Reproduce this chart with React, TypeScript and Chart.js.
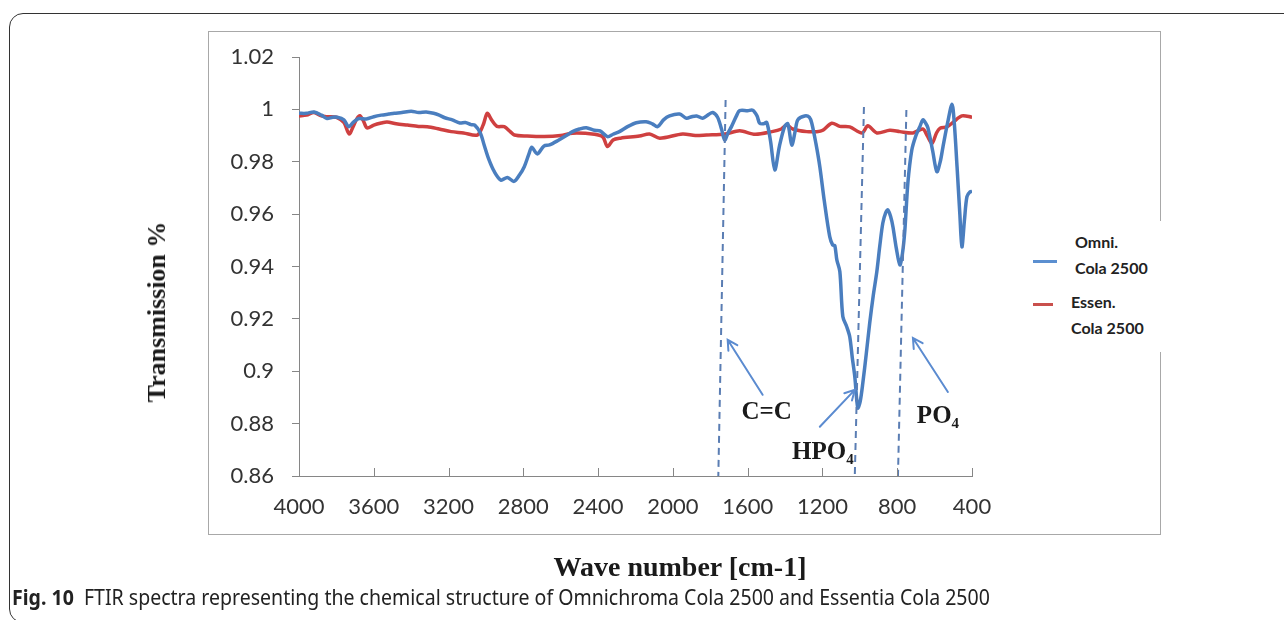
import React, { useEffect, useRef } from 'react';
import { Chart, registerables } from 'chart.js';
Chart.register(...registerables);

// ---------- data ----------
const omniWn = [4000, 3960, 3920, 3880, 3850, 3820, 3796, 3760, 3735, 3710, 3680, 3640, 3600, 3560, 3520, 3490, 3450, 3400, 3360, 3320, 3280, 3250, 3220, 3180, 3140, 3110, 3080, 3060, 3030, 3010, 2985, 2955, 2920, 2885, 2850, 2820, 2795, 2770, 2755, 2725, 2690, 2660, 2610, 2570, 2537, 2500, 2463, 2420, 2390, 2350, 2320, 2286, 2240, 2196, 2143, 2110, 2082, 2050, 2018, 1964, 1927, 1900, 1873, 1841, 1810, 1787, 1761, 1740, 1723, 1705, 1686, 1660, 1643, 1600, 1573, 1550, 1536, 1515, 1498, 1478, 1455, 1430, 1402, 1385, 1364, 1345, 1332, 1295, 1270, 1257, 1235, 1214, 1190, 1161, 1145, 1134, 1123, 1107, 1091, 1070, 1054, 1040, 1027, 1011, 998, 984, 965, 947, 928, 909, 893, 877, 862, 850, 835, 823, 805, 786, 772, 759, 743, 722, 700, 679, 663, 650, 636, 610, 588, 570, 555, 530, 507, 495, 480, 465, 454, 440, 427, 410, 400];
const omniT = [0.9985, 0.9985, 0.999, 0.9978, 0.9965, 0.997, 0.997, 0.996, 0.9934, 0.995, 0.9965, 0.9963, 0.9972, 0.9978, 0.9982, 0.9985, 0.9988, 0.9993, 0.9988, 0.999, 0.9985, 0.9978, 0.9968, 0.996, 0.9948, 0.995, 0.9942, 0.994, 0.991, 0.9865, 0.981, 0.9762, 0.973, 0.974, 0.9725, 0.975, 0.9781, 0.983, 0.9855, 0.983, 0.986, 0.9864, 0.9883, 0.99, 0.9915, 0.9925, 0.993, 0.992, 0.9918, 0.9896, 0.9905, 0.9915, 0.9935, 0.9949, 0.9953, 0.9945, 0.9934, 0.996, 0.9975, 0.9982, 0.9966, 0.9972, 0.9975, 0.9966, 0.998, 0.9988, 0.997, 0.9925, 0.9883, 0.991, 0.9935, 0.9975, 0.9995, 0.9995, 0.9997, 0.9975, 0.9947, 0.9945, 0.995, 0.988, 0.9769, 0.986, 0.9935, 0.9945, 0.9864, 0.992, 0.996, 0.9975, 0.997, 0.9947, 0.987, 0.9781, 0.965, 0.9514, 0.9482, 0.948, 0.9425, 0.9381, 0.9209, 0.917, 0.9132, 0.905, 0.898, 0.886, 0.8885, 0.8955, 0.907, 0.9185, 0.929, 0.9381, 0.948, 0.9566, 0.9605, 0.9616, 0.959, 0.9552, 0.947, 0.9406, 0.945, 0.954, 0.9719, 0.9845, 0.99, 0.9934, 0.996, 0.995, 0.993, 0.984, 0.9762, 0.98, 0.9858, 0.995, 1.002, 0.995, 0.9781, 0.96, 0.9475, 0.958, 0.9667, 0.9685, 0.9686];

const essenWn = [4000, 3960, 3920, 3880, 3850, 3800, 3760, 3732, 3710, 3690, 3675, 3655, 3636, 3600, 3560, 3529, 3480, 3420, 3360, 3314, 3250, 3186, 3120, 3046, 3015, 2993, 2970, 2940, 2902, 2870, 2848, 2780, 2688, 2600, 2537, 2420, 2375, 2350, 2320, 2280, 2179, 2125, 2070, 1948, 1880, 1820, 1720, 1643, 1560, 1470, 1420, 1391, 1359, 1284, 1230, 1198, 1150, 1107, 1054, 989, 957, 909, 840, 786, 716, 663, 640, 614, 590, 571, 534, 502, 454, 400];
const essenT = [0.9975, 0.9978, 0.9988, 0.9975, 0.9972, 0.997, 0.995, 0.9906, 0.9935, 0.9965, 0.9976, 0.9955, 0.9929, 0.994, 0.9948, 0.9952, 0.9945, 0.994, 0.9935, 0.9934, 0.9925, 0.9915, 0.991, 0.9902, 0.994, 0.9985, 0.996, 0.9935, 0.9934, 0.9915, 0.9902, 0.9898, 0.9896, 0.99, 0.9909, 0.9905, 0.9895, 0.9858, 0.9883, 0.989, 0.9898, 0.9906, 0.989, 0.9906, 0.99, 0.9902, 0.9906, 0.9918, 0.9905, 0.9915, 0.9925, 0.994, 0.9925, 0.9915, 0.9915, 0.992, 0.9947, 0.9935, 0.9933, 0.991, 0.9937, 0.991, 0.992, 0.9915, 0.991, 0.9925, 0.99, 0.987, 0.991, 0.9928, 0.9933, 0.995, 0.9975, 0.997];

// dashed marker lines (wave number at top / bottom, transmission at top / bottom)
const ccLineWn = [1718, 1757];
const ccLineT = [1.0036, 0.86];
const hpoLineWn = [978, 1027];
const hpoLineT = [1.0009, 0.86];
const poLineWn = [751, 796];
const poLineT = [0.9998, 0.86];

// annotation arrows: [tailWn, tailT, headWn, headT]
const ccArrow = [1520, 0.891, 1707, 0.912];
const hpoArrow = [1214, 0.8788, 1027, 0.8929];
const poArrow = [529, 0.8921, 716, 0.9127];

// annotation labels
const labelTexts = ['C=C', 'HPO', 'PO'];
const labelSubs = ['', '4', '4'];
const labelWn = [1498, 1198, 582];
const labelT = [0.8841, 0.8689, 0.8826];

const xMin = 400, xMax = 4000, xStep = 400;
const yMin = 0.86, yMax = 1.02, yStep = 0.02;

const seriesNames = ['Omni.', 'Essen.'];
const seriesSub = 'Cola 2500';

const BLUE = '#4a7ebf';
const RED = '#cf4040';
const DASH = '#5a7db3';
const ARROW = '#5b8bd0';

const toPts = (xs: number[], ys: number[]) => xs.map((x, i) => ({ x, y: ys[i] }));

const annotationPlugin = {
  id: 'ftirAnnotations',
  afterDatasetsDraw(chart: any) {
    const { ctx, scales } = chart;
    const xs = scales.x, ys = scales.y;
    ctx.save();
    // inside tick marks on x axis
    ctx.strokeStyle = '#868686';
    ctx.lineWidth = 1;
    xs.ticks.forEach((t: any) => {
      const px = Math.round(xs.getPixelForValue(t.value)) + 0.5;
      ctx.beginPath();
      ctx.moveTo(px, chart.chartArea.bottom);
      ctx.lineTo(px, chart.chartArea.bottom - 8);
      ctx.stroke();
    });
    // arrows
    ctx.strokeStyle = ARROW;
    ctx.lineWidth = 2;
    ctx.lineCap = 'round';
    [ccArrow, hpoArrow, poArrow].forEach((a) => {
      const x1 = xs.getPixelForValue(a[0]), y1 = ys.getPixelForValue(a[1]);
      const x2 = xs.getPixelForValue(a[2]), y2 = ys.getPixelForValue(a[3]);
      ctx.beginPath();
      ctx.moveTo(x1, y1);
      ctx.lineTo(x2, y2);
      const ang = Math.atan2(y2 - y1, x2 - x1);
      const L = 11, sp = 0.5;
      ctx.moveTo(x2 - L * Math.cos(ang - sp), y2 - L * Math.sin(ang - sp));
      ctx.lineTo(x2, y2);
      ctx.lineTo(x2 - L * Math.cos(ang + sp), y2 - L * Math.sin(ang + sp));
      ctx.stroke();
    });
    // labels
    ctx.fillStyle = '#1a1a1a';
    ctx.textBaseline = 'middle';
    ctx.textAlign = 'left';
    labelTexts.forEach((txt, i) => {
      const cx = xs.getPixelForValue(labelWn[i]);
      const cy = ys.getPixelForValue(labelT[i]);
      ctx.font = 'bold 25px "Liberation Serif", "Times New Roman", serif';
      const w1 = ctx.measureText(txt).width;
      ctx.font = 'bold 15px "Liberation Serif", "Times New Roman", serif';
      const w2 = labelSubs[i] ? ctx.measureText(labelSubs[i]).width : 0;
      const left = cx - (w1 + w2) / 2;
      ctx.font = 'bold 25px "Liberation Serif", "Times New Roman", serif';
      ctx.fillText(txt, left, cy);
      if (labelSubs[i]) {
        ctx.font = 'bold 15px "Liberation Serif", "Times New Roman", serif';
        ctx.fillText(labelSubs[i], left + w1, cy + 7);
      }
    });
    ctx.restore();
  },
};

export default function App() {
  const ref = useRef<HTMLCanvasElement | null>(null);

  useEffect(() => {
    if (!ref.current) return;
    const dashed = (xs: number[], ys: number[]) => ({
      data: toPts(xs, ys),
      borderColor: DASH,
      borderWidth: 2,
      borderDash: [7, 5],
      pointRadius: 0,
      fill: false,
      tension: 0,
    });
    const chart = new Chart(ref.current, {
      type: 'line',
      data: {
        datasets: [
          dashed(ccLineWn, ccLineT),
          dashed(hpoLineWn, hpoLineT),
          dashed(poLineWn, poLineT),
          {
            label: seriesNames[0] + ' ' + seriesSub,
            data: toPts(omniWn, omniT),
            borderColor: BLUE,
            borderWidth: 3.5,
            pointRadius: 0,
            tension: 0.3,
            fill: false,
          },
          {
            label: seriesNames[1] + ' ' + seriesSub,
            data: toPts(essenWn, essenT),
            borderColor: RED,
            borderWidth: 3.5,
            pointRadius: 0,
            tension: 0.3,
            fill: false,
          },
        ] as any,
      },
      options: {
        animation: false,
        responsive: false,
        maintainAspectRatio: false,
        layout: { padding: { left: 0, right: 312, top: 57, bottom: 0 } },
        plugins: { legend: { display: false }, tooltip: { enabled: false } },
        scales: {
          x: {
            type: 'linear',
            reverse: true,
            min: xMin,
            max: xMax,
            afterFit: (s: any) => { s.height = 620 - 476; },
            ticks: {
              stepSize: xStep,
              padding: 18,
              autoSkip: false,
              maxRotation: 0,
              font: { family: 'Lato', size: 22 },
              color: '#333',
              callback: (v: any) => String(v),
            },
            grid: { display: false, drawTicks: false },
            border: { display: true, color: '#868686', width: 1 },
          },
          y: {
            min: yMin,
            max: yMax,
            afterFit: (s: any) => { s.width = 299; },
            ticks: {
              stepSize: yStep,
              padding: 18,
              font: { family: 'Lato', size: 22 },
              color: '#333',
              callback: (v: any) => String(Number(Number(v).toFixed(2))),
            },
            grid: { display: true, drawOnChartArea: false, drawTicks: true, tickLength: 7, color: '#868686' },
            border: { display: true, color: '#868686', width: 1 },
          },
        },
      } as any,
      plugins: [annotationPlugin],
    });
    return () => chart.destroy();
  }, []);

  const serif = '"Liberation Serif", "Times New Roman", serif';
  const legendFont = 'bold 16px Lato, sans-serif';

  return (
    <div style={{ position: 'fixed', left: 0, top: 0, width: 1284, height: 620, overflow: 'hidden', background: '#fff' }}>
      <div style={{ position: 'absolute', left: 9, top: 13, width: 1300, height: 608, border: '1px solid #333', borderRadius: 14 }} />
      <div style={{ position: 'absolute', left: 208, top: 31, width: 951, height: 502, border: '1px solid #a8a8a8' }} />
      <canvas ref={ref} width={1284} height={620} style={{ position: 'absolute', left: 0, top: 0, width: 1284, height: 620 }} />
      <div style={{ position: 'absolute', left: 1022, top: 221, width: 150, height: 131, background: '#fff' }}>
        <div style={{ position: 'absolute', left: 11, top: 39, width: 24, height: 3, background: '#5b8fd0' }} />
        <div style={{ position: 'absolute', left: 53, top: 11, font: legendFont, color: '#222', lineHeight: '20px' }}>{seriesNames[0]}</div>
        <div style={{ position: 'absolute', left: 53, top: 37, font: legendFont, color: '#222', lineHeight: '20px', whiteSpace: 'nowrap' }}>{seriesSub}</div>
        <div style={{ position: 'absolute', left: 11, top: 82, width: 20, height: 3, background: '#c9504d' }} />
        <div style={{ position: 'absolute', left: 49, top: 71, font: legendFont, color: '#222', lineHeight: '20px' }}>{seriesNames[1]}</div>
        <div style={{ position: 'absolute', left: 49, top: 97, font: legendFont, color: '#222', lineHeight: '20px', whiteSpace: 'nowrap' }}>{seriesSub}</div>
      </div>
      <div style={{ position: 'absolute', left: 157, top: 312, transform: 'translate(-50%, -50%) rotate(-90deg)', whiteSpace: 'nowrap', fontFamily: serif, fontWeight: 'bold', fontSize: 26, color: '#1a1a1a' }}>Transmission %</div>
      <div style={{ position: 'absolute', left: 680, top: 567, transform: 'translate(-50%, -50%)', whiteSpace: 'nowrap', fontFamily: serif, fontWeight: 'bold', fontSize: 28, color: '#1a1a1a' }}>Wave number [cm-1]</div>
      <div style={{ position: 'absolute', left: 12, top: 597, transform: 'translateY(-50%) scaleX(0.93)', transformOrigin: 'left center', whiteSpace: 'nowrap', fontFamily: '"Noto Sans", sans-serif', fontSize: 21, color: '#222' }}>
        <span style={{ fontWeight: 'bold' }}>Fig. 10</span>&nbsp;&nbsp;FTIR spectra representing the chemical structure of Omnichroma Cola 2500 and Essentia Cola 2500
      </div>
    </div>
  );
}
